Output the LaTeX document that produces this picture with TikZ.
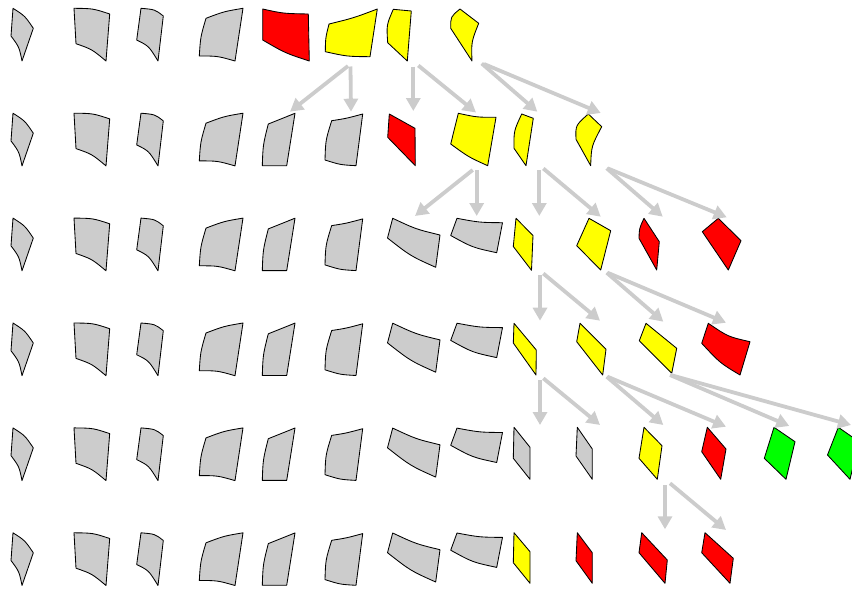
\documentclass[tikz,border=0pt]{standalone}
\usetikzlibrary{arrows.meta}
\definecolor{pgray}{RGB}{204,204,204}
\definecolor{pred}{RGB}{255,0,0}
\definecolor{pyel}{RGB}{255,255,0}
\definecolor{pgrn}{RGB}{0,255,0}
\definecolor{arrgray}{RGB}{204,204,204}
\tikzset{
  patch/.style={draw=black, line width=0.85pt, line join=round},
  gp/.style={patch, fill=pgray},
  rp/.style={patch, fill=pred},
  yp/.style={patch, fill=pyel},
  np/.style={patch, fill=pgrn},
  arr/.style={draw=arrgray, line width=3.8pt, -{Triangle[length=13pt,width=14pt]}}
}
% persistent gray patches (row-1 coordinates)
\newcommand\shapeA{\path[gp] (13,8.3) .. controls (25,16) .. (33.3,28.3) -- (22,61) .. controls (19.2,47) .. (11,36) -- cycle;}
\newcommand\shapeB{\path[gp] (74,8.3) .. controls (93,8.5) .. (109.7,14) -- (106,61) .. controls (92,49.3) .. (76,43.7) -- cycle;}
\newcommand\shapeC{\path[gp] (141,8.3) .. controls (155,9.5) .. (163.3,16) -- (158,61) .. controls (148.8,46) .. (136.7,40) -- cycle;}
\newcommand\shapeD{\path[gp] (206,18.3) .. controls (224,11.5) .. (243,8.3) -- (235,61) .. controls (217.5,56) .. (199.3,56) .. controls (200.5,37) .. (206,18.3) -- cycle;}
% row-2 coordinates
\newcommand\shapeE{\path[gp] (268.3,124) -- (295,113.3) -- (286.7,165.7) -- (262.3,165.7) .. controls (263,145) .. (268.3,124) -- cycle;}
\newcommand\shapeF{\path[gp] (331.7,120.7) .. controls (346,118.5) .. (362.7,114) -- (356,165.7) .. controls (340.2,164.8) .. (325,160) .. controls (325.6,140.3) .. (331.7,120.7) -- cycle;}
% row-3 coordinates
\newcommand\shapeG{\path[gp] (392.7,218.3) .. controls (416,229.2) .. (440,235) -- (435.7,267.3) .. controls (410.5,256) .. (387.5,238) -- cycle;}
\newcommand\shapeH{\path[gp] (457,218.3) .. controls (479.5,222.5) .. (502.5,222.7) -- (496.7,252.7) .. controls (472.5,247.5) .. (450.7,235.5) -- cycle;}
\begin{document}
\begin{tikzpicture}[x=1pt,y=-1pt]
\useasboundingbox (0,0) rectangle (852,589);
\clip (0,0) rectangle (852,589);
% ---------- gray patches that persist ----------
\foreach \k in {0,...,5}{
  \begin{scope}[shift={(0,\k*104.9)}]
    \shapeA \shapeB \shapeC \shapeD
  \end{scope}
}
\foreach \k in {0,...,4}{
  \begin{scope}[shift={(0,\k*104.9)}]
    \shapeE \shapeF
  \end{scope}
}
\foreach \k in {0,...,3}{
  \begin{scope}[shift={(0,\k*104.9)}]
    \shapeG \shapeH
  \end{scope}
}
% ---------- row 1 ----------
\path[rp] (262.7,9) .. controls (283,13.5) .. (308.3,14) -- (309.3,61) .. controls (285,53) .. (262.7,40) -- cycle;
\path[yp] (329,24) .. controls (353.5,18) .. (377.3,9) -- (370,56.7) .. controls (347,56.5) .. (325.3,51.7) .. controls (325.5,38) .. (329,24) -- cycle;
\path[yp] (393.3,9.3) -- (411.3,11) -- (407.3,61) -- (387.7,42.7) .. controls (386.5,25) .. (393.3,9.3) -- cycle;
\path[yp] (460,9) -- (478.7,23.3) .. controls (471.3,42) .. (472,61) -- (450.7,28.3) .. controls (450.6,16.7) .. (460,9) -- cycle;
% ---------- row 2 ----------
\path[rp] (389.3,114) -- (415,128.3) -- (415.3,165.7) -- (387.7,137.3) -- cycle;
\path[yp] (458.3,113.3) .. controls (477,117.3) .. (496,117.3) -- (487.7,165.7) .. controls (468.5,157) .. (450.7,144) -- cycle;
\path[yp] (521.7,114) -- (533.3,118.3) -- (526,165.7) -- (514,148.3) .. controls (513.8,131) .. (521.7,114) -- cycle;
\path[yp] (588.3,114) -- (601.7,126.7) .. controls (591.4,146.2) .. (590.7,165.7) -- (576,139.3) .. controls (575.5,125.3) .. (588.3,114) -- cycle;
% ---------- row 3 ----------
\path[yp] (516,218.3) -- (533,235.5) -- (531.5,270.3) -- (513.3,246.5) -- cycle;
\path[yp] (589,218.3) -- (610.7,230.7) -- (600.7,270) -- (576.7,245.7) -- cycle;
\path[rp] (644,218.3) -- (659.3,241.7) -- (656.7,270) -- (639,238.3) .. controls (639.3,228.3) .. (644,218.3) -- cycle;
\path[rp] (718.3,218.3) -- (741,240.7) -- (728.3,270) -- (702.3,231.7) -- cycle;
% ---------- row 4 ----------
\path[yp] (514,323.3) -- (536.3,350) -- (536,375) -- (513.3,343) -- cycle;
\path[yp] (580,323.3) -- (606,349.3) -- (602.7,375) -- (576.7,341.7) -- cycle;
\path[yp] (646,323.3) -- (676.7,348.3) -- (671.7,373.3) -- (639.3,340.7) -- cycle;
\path[rp] (708.3,323.3) .. controls (728,336.7) .. (750,341.7) -- (740,375) .. controls (720,363) .. (701.7,343.3) -- cycle;
% ---------- row 5 ----------
\path[gp] (514,427.3) -- (530,447.3) -- (530,479.3) -- (513.3,458.3) -- cycle;
\path[gp] (577.3,427.3) -- (592.3,449) -- (592.3,479.3) -- (576,456) -- cycle;
\path[yp] (644,427.3) -- (662,445.7) -- (657.3,479.3) -- (639,458.3) -- cycle;
\path[rp] (707.3,427.3) -- (726,449) -- (720.7,479.3) -- (701.7,451.7) -- cycle;
\path[np] (774,427.3) -- (795,441.7) -- (786,479.3) -- (764.3,458.3) -- cycle;
\path[np] (838.3,427.3) -- (859,441.7) -- (850,479.3) -- (827.5,455) -- cycle;
% ---------- row 6 ----------
\path[yp] (514,532.7) -- (530,551.7) -- (530,583.3) -- (513.3,562.7) -- cycle;
\path[rp] (577.3,532.7) -- (592.3,552.7) -- (592.3,583.3) -- (576,560.7) -- cycle;
\path[rp] (641.7,532.7) -- (667.3,560) -- (665,583.3) -- (639,552.7) -- cycle;
\path[rp] (705,532.7) -- (733.3,558.3) -- (730,583.3) -- (701.7,552.7) -- cycle;
% ---------- arrows ----------
\foreach \i/\sx/\sy/\tx/\ty in {
  1/348/66/290/111.7, 2/350.5/66.5/351/111.7, 3/413.3/66.5/413.3/111, 4/418.3/65.5/476/112.5,
  5/481.7/63.5/537.3/111.7, 6/484/64/600.7/113,
  7/472.7/170/415/216, 8/476.7/170/476.7/216, 9/539.3/170/539.3/216, 10/543.3/168.5/600.7/216.7,
  11/606.7/168.3/662.7/216.7, 12/607.5/168.3/726.7/217.3,
  13/540/275/540/320.7, 14/543.3/273.5/600/320.7, 15/606.7/272.7/663.3/321.7, 16/607.5/272.7/726/322.7,
  17/540/380/540/425, 18/543.3/378.3/600/425, 19/606.7/376.7/663.3/425, 20/607.5/376.7/726/426.7,
  21/670/375/789.3/426, 22/670.5/375/851/425,
  23/665/485/665/529.3, 24/670/483.3/726/530}{
  \coordinate (s\i) at (\sx,\sy);
  \coordinate (t\i) at (\tx,\ty);
  \draw[arr] (s\i) -- (t\i);
}
\end{tikzpicture}
\end{document}
